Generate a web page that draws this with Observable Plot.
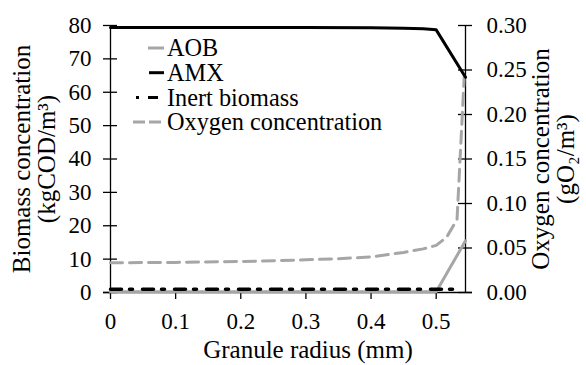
<!DOCTYPE html>
<html>
<head>
<meta charset="utf-8">
<script src="https://cdn.jsdelivr.net/npm/d3@7"></script>
<script src="https://cdn.jsdelivr.net/npm/@observablehq/plot@0.6"></script>
<style>
  html, body { margin: 0; padding: 0; background: #fff; }
  #chart { width: 586px; height: 365px; }
  #chart svg, #chart svg text { font-family: "Liberation Serif", "Times New Roman", "DejaVu Serif", serif !important; }
</style>
</head>
<body>
<div id="chart"></div>
<script>
// ---- data ----
const radiusAMX = [0, 0.1, 0.2, 0.3, 0.4, 0.45, 0.48, 0.5, 0.545];
const amx       = [79.4, 79.4, 79.4, 79.4, 79.3, 79.2, 79.0, 78.7, 64.5];

const radiusAOB = [0, 0.5, 0.545];
const aob       = [0.2, 0.2, 15.5];

const radiusInert = [0, 0.54];
const inert       = [1, 1];

const radiusO2 = [0, 0.1, 0.2, 0.3, 0.35, 0.4, 0.45, 0.48, 0.5, 0.516, 0.532, 0.543];
const oxygen   = [0.0334, 0.0338, 0.0348, 0.0367, 0.038, 0.040, 0.045, 0.049, 0.053, 0.062, 0.082, 0.242];

const xTicks  = [0, 0.1, 0.2, 0.3, 0.4, 0.5];
const yTicks  = [0, 10, 20, 30, 40, 50, 60, 70, 80];
const o2Ticks = [0, 0.05, 0.10, 0.15, 0.20, 0.25, 0.30];

const legendLabels = ["AOB", "AMX", "Inert biomass", "Oxygen concentration"];
const xLabel = "Granule radius (mm)";
const yLabel = "Biomass concentration\n(kgCOD/m³)";
const y2Label = "Oxygen concentration\n(gO₂/m³)";

// ---- build tables ----
const o2Max = 0.3, yMax = 80, k = yMax / o2Max, xMax = 0.545;
const amxData   = radiusAMX.map((r, i) => ({r, v: amx[i]}));
const aobData   = radiusAOB.map((r, i) => ({r, v: aob[i]}));
const inertData = radiusInert.map((r, i) => ({r, v: inert[i]}));
const o2Data    = radiusO2.map((r, i) => ({r, v: oxygen[i] * k}));
const o2TickPos = o2Ticks.map(t => t * k);

const GRAY = "#a6a6a6";

const plot = Plot.plot({
  width: 586, height: 365,
  marginLeft: 110, marginRight: 121, marginTop: 25, marginBottom: 73,
  style: { fontSize: "23px", color: "#000", background: "#fff", overflow: "visible" },
  x: { domain: [0, xMax] },
  y: { domain: [0, yMax] },
  marks: [
    // axis lines
    Plot.ruleX([0], { stroke: "#000", strokeWidth: 1.3 }),
    Plot.ruleX([xMax], { stroke: "#000", strokeWidth: 1.3 }),
    Plot.ruleY([0], { stroke: "#000", strokeWidth: 1.3, insetLeft: -7, insetRight: -7 }),
    // crossing ticks
    Plot.ruleY(yTicks, { y: d => d, x1: 0, x2: 0, insetLeft: -7, insetRight: -7, stroke: "#000", strokeWidth: 1.3 }),
    Plot.ruleY(o2TickPos, { y: d => d, x1: xMax, x2: xMax, insetLeft: -7, insetRight: -7, stroke: "#000", strokeWidth: 1.3 }),
    Plot.ruleX(xTicks, { x: d => d, y1: 0, y2: 0, insetBottom: -7, stroke: "#000", strokeWidth: 1.3 }),
    // tick labels
    Plot.axisY(yTicks, { anchor: "left", tickSize: 0, tickPadding: 19, fontSize: 23, label: null, tickFormat: d => String(d) }),
    Plot.axisY(o2TickPos, { anchor: "right", tickSize: 0, tickPadding: 21, fontSize: 23, label: null,
      tickFormat: d => (d / k).toFixed(2) }),
    Plot.axisX(xTicks, { anchor: "bottom", tickSize: 0, tickPadding: 20, fontSize: 23, label: null,
      tickFormat: d => d === 0 ? "0" : d.toFixed(1) }),
    // axis titles
    Plot.text([xLabel], { frameAnchor: "bottom", dx: 20, dy: 57, fontSize: 25, lineAnchor: "middle", textAnchor: "middle" }),
    Plot.text([yLabel], { frameAnchor: "left", dx: -76, rotate: -90, fontSize: 25, lineAnchor: "middle", textAnchor: "middle", lineHeight: 1.02 }),
    Plot.text([y2Label], { frameAnchor: "right", dx: 88, rotate: -90, fontSize: 25, lineAnchor: "middle", textAnchor: "middle", lineHeight: 1.02 }),
    // series
    Plot.line(aobData, { x: "r", y: "v", stroke: GRAY, strokeWidth: 3 }),
    Plot.line(o2Data, { x: "r", y: "v", stroke: GRAY, strokeWidth: 3, strokeDasharray: "12,7" }),
    Plot.line(inertData, { x: "r", y: "v", stroke: "#000", strokeWidth: 3.5, strokeDasharray: "11,8,3,10" }),
    Plot.line(amxData, { x: "r", y: "v", stroke: "#000", strokeWidth: 3 })
  ]
});

document.getElementById("chart").appendChild(plot);

// ---- legend (inside plot area, upper left) ----
const svg = d3.select(plot);
const leg = svg.append("g").attr("font-size", 24.3).attr("text-anchor", "start");
const styles = [
  { stroke: GRAY, dash: null, x1: 148, x2: 164 },
  { stroke: "#000", dash: null, x1: 149, x2: 164 },
  { stroke: "#000", dash: "3,9,10,99", x1: 136, x2: 160 },
  { stroke: GRAY, dash: "12,4", x1: 133, x2: 161 }
];
legendLabels.forEach((lab, i) => {
  const y = 48 + i * 24.7;
  const s = styles[i];
  leg.append("line").attr("x1", s.x1).attr("x2", s.x2).attr("y1", y).attr("y2", y)
    .attr("stroke", s.stroke).attr("stroke-width", 3).attr("stroke-dasharray", s.dash);
  leg.append("text").attr("x", 167).attr("y", y).attr("dy", "0.34em").attr("text-anchor", "start").text(lab);
});
</script>
</body>
</html>
